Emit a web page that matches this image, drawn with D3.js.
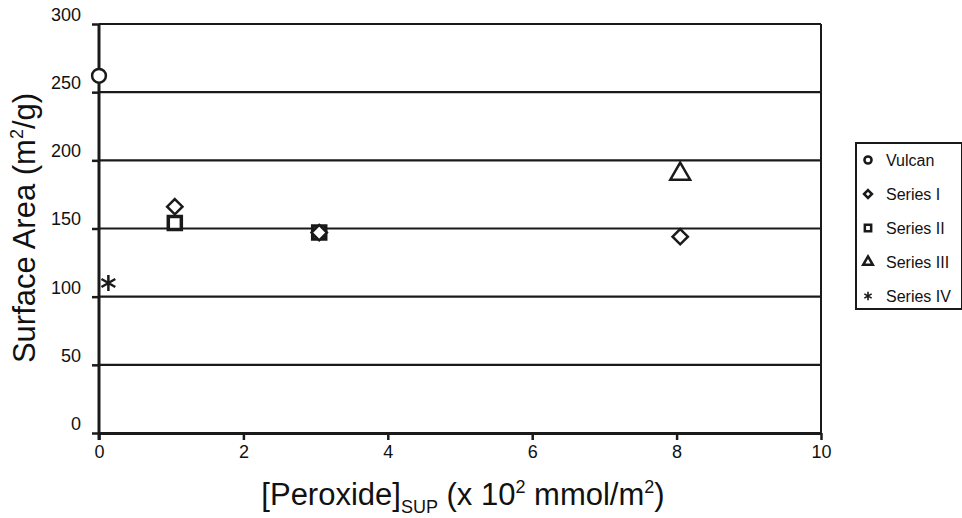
<!DOCTYPE html>
<html>
<head>
<meta charset="utf-8">
<script src="https://cdn.jsdelivr.net/npm/d3@7"></script>
<style>
  body { margin: 0; background: #fff; }
  text { font-family: "Liberation Sans", Arial, sans-serif; fill: #111; }
  .tick text { font-size: 18px; }
</style>
</head>
<body>
<div id="chart"></div>
<script>
const seriesNames = ["Vulcan", "Series I", "Series II", "Series III", "Series IV"];
const vulcanPts = [[0, 262]];
const series1Pts = [[1.05, 166], [3.05, 147], [8.05, 144]];
const series2Pts = [[1.05, 154], [3.05, 147]];
const series3Pts = [[8.05, 190]];
const series4Pts = [[0.13, 110]];
const xTicks = [0, 2, 4, 6, 8, 10];
const yTicks = [0, 50, 100, 150, 200, 250, 300];

const W = 962, H = 518;
const margin = { top: 24, right: 141, bottom: 85, left: 99 };
const width = W - margin.left - margin.right;
const height = H - margin.top - margin.bottom;

const svg = d3.select("#chart").append("svg")
    .attr("width", W).attr("height", H);
const g = svg.append("g").attr("transform", `translate(${margin.left},${margin.top})`);

const x = d3.scaleLinear().domain([0, 10]).range([0, width]);
const y = d3.scaleLinear().domain([0, 300]).range([height, 0]);

// gridlines
g.selectAll("line.grid").data(yTicks).enter().append("line")
    .attr("x1", 0).attr("x2", width)
    .attr("y1", d => y(d)).attr("y2", d => y(d))
    .attr("stroke", "#1a1a1a").attr("stroke-width", 2.2);

// right border
g.append("line").attr("x1", width).attr("x2", width)
    .attr("y1", 0).attr("y2", height)
    .attr("stroke", "#1a1a1a").attr("stroke-width", 2);

const xAxis = g.append("g").attr("transform", `translate(0,${height})`)
    .call(d3.axisBottom(x).tickValues(xTicks).tickSize(7).tickPadding(5).tickSizeOuter(0));
const yAxis = g.append("g")
    .call(d3.axisLeft(y).tickValues(yTicks).tickSize(7).tickPadding(11).tickSizeOuter(0));

[xAxis, yAxis].forEach(a => {
    a.attr("font-size", 18).attr("font-family", null);
    a.select(".domain").attr("stroke", "#1a1a1a").attr("stroke-width", 3);
    a.selectAll(".tick line").attr("stroke", "#1a1a1a").attr("stroke-width", 2.5);
    a.selectAll(".tick text").attr("fill", "#111");
});
yAxis.selectAll(".tick text").attr("dy", "-0.2em");
yAxis.select(".domain").attr("d", `M0,${height + 7}V0`);

// markers
const sym = {
    "Vulcan": d3.symbol().type(d3.symbolCircle).size(150),
    "Series I": d3.symbol().type(d3.symbolDiamond2).size(150),
    "Series II": d3.symbol().type(d3.symbolSquare).size(170),
    "Series III": d3.symbol().type(d3.symbolTriangle).size(170),
    "Series IV": d3.symbol().type(d3.symbolAsterisk).size(180)
};
const data = [vulcanPts, series1Pts, series2Pts, series3Pts, series4Pts];
const drawOrder = [0, 2, 1, 3, 4];

drawOrder.forEach(i => {
    const name = seriesNames[i];
    g.selectAll(null).data(data[i]).enter().append("path")
        .attr("d", sym[name])
        .attr("transform", d => `translate(${x(d[0])},${y(d[1])})`)
        .attr("fill", i === 4 ? "none" : "#fff")
        .attr("stroke", "#1a1a1a")
        .attr("stroke-width", i === 2 ? 3.5 : 2.5);
});

// axis titles
svg.append("text")
    .attr("transform", `translate(35,228) rotate(-90)`)
    .attr("text-anchor", "middle")
    .style("font-size", "31px")
    .html('Surface Area (m<tspan dy="-12" font-size="18px">2</tspan><tspan dy="12">/g)</tspan>');

svg.append("text")
    .attr("x", 463)
    .attr("y", 505)
    .attr("text-anchor", "middle")
    .style("font-size", "31px")
    .html('[Peroxide]<tspan dy="8" font-size="18px">SUP</tspan><tspan dy="-8"> (x 10</tspan><tspan dy="-12" font-size="18px">2</tspan><tspan dy="12"> mmol/m</tspan><tspan dy="-12" font-size="18px">2</tspan><tspan dy="12">)</tspan>');

// legend
const lg = svg.append("g").attr("transform", "translate(856,143)");
lg.append("rect").attr("width", 106).attr("height", 166)
    .attr("fill", "#fff").attr("stroke", "#1a1a1a").attr("stroke-width", 2);
seriesNames.forEach((name, i) => {
    const yy = 17 + i * 34;
    lg.append("path")
        .attr("d", d3.symbol().type(sym[name].type()).size(i === 4 ? 50 : 40))
        .attr("transform", `translate(12,${yy})`)
        .attr("fill", i === 4 ? "none" : "#fff")
        .attr("stroke", "#1a1a1a").attr("stroke-width", i === 4 ? 1.6 : 2.5);
    lg.append("text").attr("x", 30).attr("y", yy + 6)
        .style("font-size", "16px").text(name);
});
</script>
</body>
</html>
